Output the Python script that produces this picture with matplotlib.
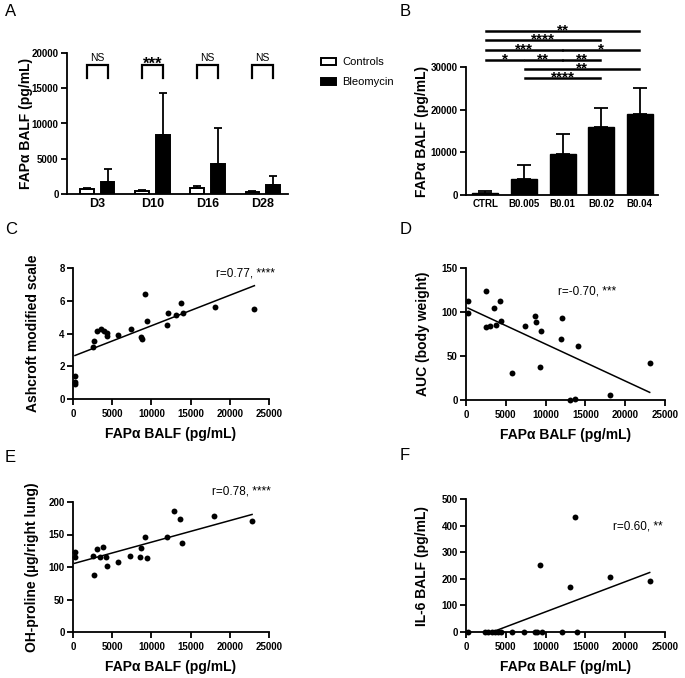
import numpy as np
import matplotlib
matplotlib.use("Agg")
import matplotlib.pyplot as plt

plt.rcParams['font.family'] = ['Liberation Sans', 'DejaVu Sans']
plt.rcParams['font.weight'] = 'bold'
plt.rcParams['axes.labelweight'] = 'bold'

# ---------------- data ----------------
days = ['D3', 'D10', 'D16', 'D28']
ctrl_mean = [700, 400, 800, 250]
ctrl_sd = [200, 200, 300, 200]
bleo_mean = [1700, 8300, 4300, 1300]
bleo_sd = [1900, 6000, 5000, 1300]
sig_A = ['NS', '***', 'NS', 'NS']

doses = ['CTRL', 'B0.005', 'B0.01', 'B0.02', 'B0.04']
dose_mean = [400, 3800, 9600, 16000, 18900]
dose_sd = [500, 3300, 4800, 4300, 6200]
# comparisons: (group i, group j, label)
comp_B = [(0, 4, '**'), (0, 3, '****'), (0, 2, '***'), (2, 4, '*'),
          (0, 1, '*'), (1, 2, '**'), (2, 3, '**'), (1, 4, '**'), (1, 3, '****')]
comp_B_level = [38400, 36300, 34000, 34000, 31600, 31600, 31600, 29500, 27400]

c_x = [254, 254, 297, 2500, 2627, 3050, 3517, 3900, 4322, 4322, 5720, 7373, 8644,
       8855, 9237, 9492, 12076, 12034, 13093, 13771, 14068, 18093, 23136]
c_y = [1.42, 1.01, 0.91, 3.16, 3.52, 4.15, 4.27, 4.15, 4.01, 3.87, 3.89, 4.27, 3.77,
       3.65, 6.40, 4.78, 5.27, 4.54, 5.14, 5.89, 5.27, 5.63, 5.51]
c_fit = (2.61, 1.863e-4)
c_text = 'r=0.77, ****'

d_x = [251, 251, 2550, 2467, 3052, 3512, 3763, 4306, 4390, 5727, 7358, 8654, 8821,
       9239, 9448, 12000, 11956, 13085, 13754, 14047, 18102, 23077]
d_y = [112.6, 99.0, 123.9, 82.4, 83.9, 105.0, 85.0, 112.2, 89.9, 30.6, 83.9, 95.6,
       88.8, 37.0, 78.2, 93.3, 68.8, 0.4, 1.1, 60.8, 5.7, 41.6]
d_fit = (105.5, -4.196e-3)
d_text = 'r=-0.70, ***'

e_x = [297, 212, 2500, 2627, 3050, 3475, 3771, 4237, 4322, 5678, 7330, 8686, 8602,
       9153, 9407, 11949, 12924, 13644, 13941, 17966, 22839]
e_y = [123.7, 114.9, 117.5, 87.1, 127.3, 115.5, 131.4, 116.0, 101.5, 107.2, 117.0,
       128.9, 114.9, 146.9, 114.4, 145.9, 185.6, 173.2, 136.6, 177.8, 170.6]
e_fit = (105.0, 3.32e-3)
e_text = 'r=0.78, ****'

f_x = [250, 2387, 2764, 3266, 3643, 4020, 4397, 5779, 7286, 8668, 8920, 9548, 12060,
       13945, 9239, 13043, 13754, 18102, 23077]
f_y = [0, 0, 0, 0, 0, 0, 0, 0, 0, 0, 0, 0, 0, 0, 251, 169.6, 433.4, 208.5, 191]
f_fit = (-37.3, 0.01131)
f_text = 'r=0.60, **'

# ---------------- figure ----------------
W, H = 685, 678
fig = plt.figure(figsize=(W / 100, H / 100), dpi=100)


def add_ax(l, t, r, b):
    return fig.add_axes([l / W, 1 - b / H, (r - l) / W, (b - t) / H])


def style(ax, ylab_dx):
    for s in ['top', 'right']:
        ax.spines[s].set_visible(False)
    for s in ['left', 'bottom']:
        ax.spines[s].set_linewidth(1.3)
    ax.tick_params(width=1.3, length=4, labelsize=7, pad=2)
    wpx = ax.get_position().width * W
    ax.yaxis.set_label_coords(-ylab_dx / wpx, 0.5)


LBL = dict(fontsize=10, fontweight='bold')

# ---- Panel A ----
axA = add_ax(67, 53, 288, 194)
x = np.arange(len(days))
off, bw = 0.186, 0.25
axA.bar(x - off, ctrl_mean, bw, color='white', edgecolor='black', linewidth=1.4,
        yerr=[np.zeros(4), ctrl_sd], capsize=3, error_kw=dict(lw=1.3, capthick=1.3),
        label='Controls', zorder=3)
axA.bar(x + off, bleo_mean, bw, color='black', edgecolor='black', linewidth=1.4,
        yerr=[np.zeros(4), bleo_sd], capsize=3, error_kw=dict(lw=1.3, capthick=1.3),
        label='Bleomycin', zorder=3)
axA.set_xlim(-0.55, 3.46)
axA.set_ylim(0, 20000)
axA.set_yticks([0, 5000, 10000, 15000, 20000])
axA.set_xticks(x)
axA.set_xticklabels(days)
axA.set_ylabel('FAPα BALF (pg/mL)', **LBL)
style(axA, 34)
axA.tick_params(axis='x', length=0, labelsize=9, pad=3)
for i, s in enumerate(sig_A):
    x0, x1 = i - off, i + off
    axA.plot([x0, x0, x1, x1], [16400, 18300, 18300, 16400], color='black', lw=1.6,
             clip_on=False, solid_joinstyle='miter')
    if s == 'NS':
        axA.text(i, 18600, s, ha='center', va='bottom', fontsize=7.5,
                 fontweight='normal')
    else:
        axA.text(i, 17800, s, ha='center', va='baseline', fontsize=12)
leg = axA.legend(loc='upper left', bbox_to_anchor=(1.13, 1.0), frameon=False,
                 prop=dict(size=8, weight='normal'), handlelength=1.3,
                 handleheight=0.6, labelspacing=0.9, borderaxespad=0,
                 handletextpad=0.6)

# ---- Panel B ----
axB = add_ax(466, 67, 658, 195)
xb = np.arange(len(doses))
axB.bar(xb, dose_mean, 0.67, color='black', edgecolor='black',
        yerr=[np.zeros(5), dose_sd], capsize=5, error_kw=dict(lw=1.3, capthick=1.3),
        zorder=3)
axB.set_xlim(-0.5, 4.47)
axB.set_ylim(0, 30000)
axB.set_yticks([0, 10000, 20000, 30000])
axB.set_xticks(xb)
axB.set_xticklabels(doses)
axB.set_ylabel('FAPα BALF (pg/mL)', **LBL)
style(axB, 37)
axB.tick_params(axis='x', length=0, labelsize=7, pad=3)
for (i, j, s), lev in zip(comp_B, comp_B_level):
    g = 0.02
    axB.plot([i + g, j - g], [lev, lev], color='black', lw=1.8, clip_on=False)
    axB.text((i + j) / 2, lev - 850, s, ha='center', va='baseline', fontsize=11)


# ---- scatter panels ----
def scatter_panel(box, xs, ys, fit, txt, txt_xy, ylim, yticks, ylabel, ylab_dx):
    ax = add_ax(*box)
    ax.scatter(xs, ys, s=18, color='black', zorder=4, clip_on=False, linewidths=0)
    xx = np.array([min(xs), max(xs)])
    ax.plot(xx, fit[0] + fit[1] * xx, color='black', lw=1.1, zorder=3)
    ax.set_xlim(0, 25000)
    ax.set_ylim(*ylim)
    ax.set_xticks([0, 5000, 10000, 15000, 20000, 25000])
    ax.set_yticks(yticks)
    ax.set_xlabel('FAPα BALF (pg/mL)', labelpad=6, **LBL)
    ax.set_ylabel(ylabel, **LBL)
    style(ax, ylab_dx)
    ax.tick_params(axis='x', pad=3)
    ax.text(txt_xy[0], txt_xy[1], txt, transform=ax.transAxes, fontsize=8.5,
            ha='left', va='center', fontweight='normal')
    return ax


scatter_panel((73, 268, 269, 399), c_x, c_y, c_fit, c_text, (0.73, 0.96),
              (0, 8), [0, 2, 4, 6, 8], 'Ashcroft modified scale', 33)
scatter_panel((466, 268, 665, 400), d_x, d_y, d_fit, d_text, (0.46, 0.82),
              (0, 150), [0, 50, 100, 150], 'AUC (body weight)', 36)
scatter_panel((73, 502, 269, 632), e_x, e_y, e_fit, e_text, (0.71, 1.08),
              (0, 200), [0, 50, 100, 150, 200], 'OH-proline (µg/right lung)', 34)
scatter_panel((466, 499, 665, 632), f_x, f_y, f_fit, f_text, (0.74, 0.79),
              (0, 500), [0, 100, 200, 300, 400, 500], 'IL-6 BALF (pg/mL)', 37)

# panel letters
for L, (px, py) in zip('ABCDEF', [(5, 12), (400, 12), (5, 229), (400, 229), (5, 458), (400, 456)]):
    fig.text(px / W, 1 - py / H, L, fontsize=12, ha='left', va='center',
             fontweight='normal')

fig.savefig('out.png', dpi=100)
